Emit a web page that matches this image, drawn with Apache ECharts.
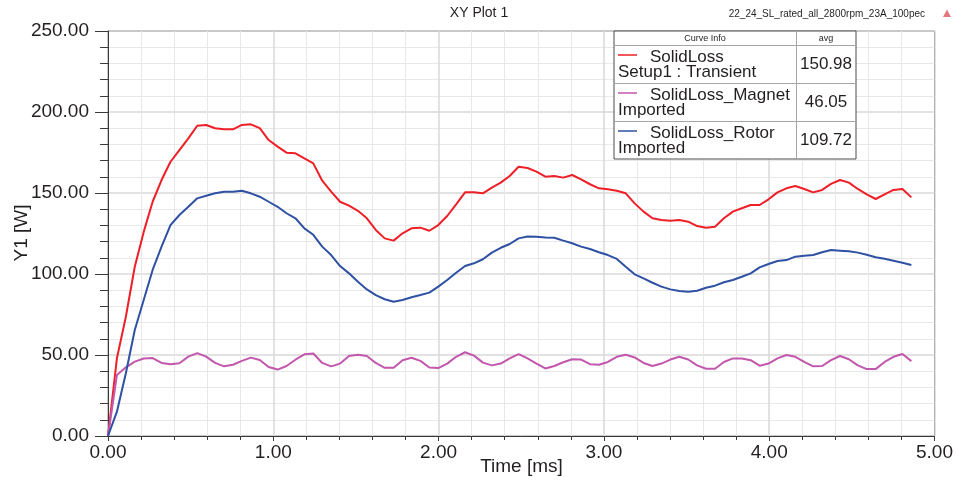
<!DOCTYPE html>
<html>
<head>
<meta charset="utf-8">
<script src="https://cdn.jsdelivr.net/npm/echarts@6/dist/echarts.min.js"></script>
<style>
  html, body { margin: 0; padding: 0; background: #fff; }
  #chart { width: 956px; height: 483px; }
</style>
</head>
<body>
<div id="chart"></div>
<script>
// Sample times [ms]
const timeMs = [
  0, 0.054, 0.108, 0.162, 0.216, 0.27, 0.324, 0.378, 0.432, 0.486,
  0.54, 0.594, 0.648, 0.702, 0.756, 0.81, 0.864, 0.918, 0.972, 1.026,
  1.08, 1.134, 1.188, 1.242, 1.296, 1.35, 1.404, 1.458, 1.512, 1.566,
  1.62, 1.674, 1.728, 1.782, 1.836, 1.89, 1.944, 1.998, 2.052, 2.106,
  2.16, 2.214, 2.268, 2.322, 2.376, 2.43, 2.484, 2.538, 2.592, 2.646,
  2.7, 2.754, 2.808, 2.862, 2.916, 2.97, 3.024, 3.078, 3.132, 3.186,
  3.24, 3.294, 3.348, 3.402, 3.456, 3.51, 3.564, 3.618, 3.672, 3.726,
  3.78, 3.834, 3.888, 3.942, 3.996, 4.05, 4.104, 4.158, 4.212, 4.266,
  4.32, 4.374, 4.428, 4.482, 4.536, 4.59, 4.644, 4.698, 4.752, 4.806,
  4.86
];

// SolidLoss [W]
const solidLoss = [
  0, 48, 73.6, 104.5, 126, 144.6, 158, 169.3, 176.5, 183.7,
  191.5, 192, 190, 189.3, 189.3, 192, 192.4, 190, 182.7, 178.6,
  174.9, 174.5, 171.4, 168.3, 157.6, 150.8, 144.6, 142.2, 139, 134.4,
  127.2, 122, 120.6, 125.1, 128.2, 128.6, 126.7, 130.2, 135.8, 143,
  150.4, 150.4, 149.8, 153.3, 156.4, 160.5, 166.2, 165.4, 163.2, 160.1,
  160.5, 159.5, 161.1, 158.4, 155.4, 152.9, 152.3, 151.4, 149.8, 143.6,
  138.5, 134.4, 133.3, 132.9, 133.3, 132.3, 129.6, 128.6, 129.2, 134.4,
  138.5, 140.6, 142.6, 142.6, 146.1, 150.4, 152.9, 154.3, 152.5, 150.4,
  151.9, 155.6, 158, 156.4, 152.5, 149.2, 146.3, 149.2, 151.9, 152.5,
  147.3
];

// SolidLoss_Magnet [W]
const solidLossMagnet = [
  0, 37.7, 42.4, 45.9, 47.8, 48.1, 45.1, 44.3, 44.9, 49,
  51.2, 49, 45.1, 43, 44, 46.4, 48.4, 46.9, 42.6, 41,
  43.2, 47.1, 50.4, 50.9, 45.1, 43, 44.7, 49.4, 50.2, 49.4,
  45.1, 42.1, 42.1, 46.8, 48.3, 46.4, 42.3, 41.9, 44.7, 48.9,
  51.7, 49.6, 45.3, 43.6, 44.7, 47.9, 50.6, 47.9, 44.7, 41.7,
  43.2, 45.5, 47.4, 47.2, 44.3, 44, 45.7, 48.9, 50.2, 48.5,
  45.1, 43.2, 44.7, 47.2, 48.9, 47.2, 43.6, 41.5, 41.5, 45.7,
  47.9, 47.9, 46.8, 43.4, 44.7, 47.9, 50, 48.9, 45.7, 43,
  43.2, 46.8, 49.4, 47.4, 43.6, 41.3, 41.3, 45.7, 48.9, 50.6,
  46.2
];

// SolidLoss_Rotor [W]
const solidLossRotor = [
  0, 15, 38.7, 65.4, 84, 102.5, 116.9, 130.2, 136.4, 141.5,
  146.7, 148.3, 149.8, 150.8, 150.8, 151.4, 149.8, 147.7, 144.6, 141.5,
  137.5, 134.4, 128.2, 124.2, 116.9, 111.7, 104.9, 100.4, 95.2, 90.5,
  87, 84.4, 82.9, 84, 85.6, 87, 88.5, 92.2, 96.3, 100.8,
  104.9, 106.6, 109.1, 113.2, 116.2, 118.5, 122, 123.2, 123, 122.6,
  122.4, 120.6, 119, 116.9, 115.4, 113.4, 111.7, 109.3, 104.5, 99.8,
  97.3, 94.6, 92.2, 90.5, 89.5, 89.1, 89.7, 91.5, 92.8, 94.9,
  96.3, 98.3, 100.4, 104.1, 106.2, 108, 108.6, 110.7, 111.3, 111.7,
  113.4, 114.8, 114.4, 114, 113.2, 111.9, 110.3, 109.4, 108.2, 107,
  105.6
];

// Curve info table contents
const curveNames = ['SolidLoss', 'SolidLoss_Magnet', 'SolidLoss_Rotor'];
const curveSources = ['Setup1 : Transient', 'Imported', 'Imported'];
const curveAvg = ['150.98', '46.05', '109.72'];
const curveValues = [solidLoss, solidLossMagnet, solidLossRotor];

const plotTitle = 'XY Plot 1';
const designName = '22_24_SL_rated_all_2800rpm_23A_100pec';
const xName = 'Time [ms]';
const yName = 'Y1 [W]';

// ---- styling / layout ----
const curveColors = ['#ee1f26', '#c257ad', '#2e51a3'];
const FONT = '"Liberation Sans", Arial, sans-serif';
const TXT = '#231f20';
const plot = { left: 108, top: 31, right: 935, bottom: 436 };

const chart = echarts.init(document.getElementById('chart'), null, { renderer: 'canvas' });

const series = curveNames.map((name, k) => ({
  name,
  type: 'line',
  data: timeMs.map((t, i) => [t, curveValues[k][i]]),
  showSymbol: false,
  symbol: 'none',
  lineStyle: { color: curveColors[k], width: 2 },
  itemStyle: { color: curveColors[k] },
  z: 3 + k
}));

// Curve info table
const tbl = { x0: 614, x1: 796, x2: 856, rows: [31, 45, 83, 121, 159] };
const tableEls = [];
tableEls.push({
  type: 'rect', z: 100,
  shape: { x: tbl.x0, y: tbl.rows[0], width: tbl.x2 - tbl.x0, height: tbl.rows[4] - tbl.rows[0] },
  style: { fill: '#ffffff', stroke: '#4a4a4a', lineWidth: 1 }
});
[1, 2, 3].forEach(r => tableEls.push({
  type: 'line', z: 101,
  shape: { x1: tbl.x0, y1: tbl.rows[r] + 0.5, x2: tbl.x2, y2: tbl.rows[r] + 0.5 },
  style: { stroke: '#a6a6a6', lineWidth: 1 }
}));
tableEls.push({
  type: 'line', z: 101,
  shape: { x1: tbl.x1 + 0.5, y1: tbl.rows[0], x2: tbl.x1 + 0.5, y2: tbl.rows[4] },
  style: { stroke: '#a6a6a6', lineWidth: 1 }
});
tableEls.push({
  type: 'text', z: 102, x: (tbl.x0 + tbl.x1) / 2, y: 38.5,
  style: { text: 'Curve Info', font: '9px ' + FONT, fill: TXT, align: 'center', verticalAlign: 'middle' }
});
tableEls.push({
  type: 'text', z: 102, x: (tbl.x1 + tbl.x2) / 2, y: 38.5,
  style: { text: 'avg', font: '9px ' + FONT, fill: TXT, align: 'center', verticalAlign: 'middle' }
});
curveNames.forEach((name, k) => {
  const top = tbl.rows[k + 1];
  tableEls.push({
    type: 'line', z: 102,
    shape: { x1: 618, y1: top + 10, x2: 637, y2: top + 10 },
    style: { stroke: curveColors[k], lineWidth: 1.5 }
  });
  tableEls.push({
    type: 'text', z: 102, x: 650, y: top + 12.5,
    style: { text: name, font: '17px ' + FONT, fill: TXT, align: 'left', verticalAlign: 'middle' }
  });
  tableEls.push({
    type: 'text', z: 102, x: 618, y: top + 27.8,
    style: { text: curveSources[k], font: '17px ' + FONT, fill: TXT, align: 'left', verticalAlign: 'middle' }
  });
  tableEls.push({
    type: 'text', z: 102, x: (tbl.x1 + tbl.x2) / 2, y: top + 19.5,
    style: { text: curveAvg[k], font: '17px ' + FONT, fill: TXT, align: 'center', verticalAlign: 'middle' }
  });
});

const option = {
  animation: false,
  backgroundColor: '#ffffff',
  grid: {
    left: plot.left, top: plot.top,
    width: plot.right - plot.left, height: plot.bottom - plot.top,
    show: true, borderColor: '#3a3a3a', borderWidth: 1, backgroundColor: 'transparent'
  },
  xAxis: {
    type: 'value', min: 0, max: 5, interval: 1,
    axisLine: { show: true, lineStyle: { color: '#3a3a3a', width: 1 } },
    axisTick: { show: true, length: 5, lineStyle: { color: '#3a3a3a' } },
    minorTick: { show: true, splitNumber: 5, length: 4, lineStyle: { color: '#3a3a3a' } },
    axisLabel: {
      margin: 7, fontSize: 19, fontFamily: FONT, color: TXT,
      formatter: v => v.toFixed(2)
    },
    splitLine: { show: true, lineStyle: { color: '#d9d9d9', width: 1.5 } },
    minorSplitLine: { show: true, lineStyle: { color: '#e8e8e8', width: 1 } }
  },
  yAxis: {
    type: 'value', min: 0, max: 250, interval: 50,
    axisLine: { show: true, lineStyle: { color: '#3a3a3a', width: 1 } },
    axisTick: { show: true, length: 13, lineStyle: { color: '#3a3a3a' } },
    minorTick: { show: true, splitNumber: 5, length: 8, lineStyle: { color: '#3a3a3a' } },
    axisLabel: {
      margin: 19, fontSize: 19, fontFamily: FONT, color: TXT,
      formatter: v => v.toFixed(2)
    },
    splitLine: { show: true, lineStyle: { color: '#d9d9d9', width: 1.5 } },
    minorSplitLine: { show: true, lineStyle: { color: '#e8e8e8', width: 1 } }
  },
  series,
  graphic: [
    {
      type: 'text', x: 479, y: 13,
      style: { text: plotTitle, font: '14px ' + FONT, fill: TXT, align: 'center', verticalAlign: 'middle' }
    },
    {
      type: 'text', x: 925, y: 14,
      style: { text: designName, font: '10px ' + FONT, fill: TXT, align: 'right', verticalAlign: 'middle' }
    },
    {
      type: 'polygon',
      shape: { points: [[943, 17], [947, 9.5], [951, 17]] },
      style: { fill: '#e4797d' }
    },
    {
      type: 'text', x: (plot.left + plot.right) / 2, y: 467,
      style: { text: xName, font: '19px ' + FONT, fill: TXT, align: 'center', verticalAlign: 'middle' }
    },
    {
      type: 'text', x: 22, y: 233, rotation: Math.PI / 2,
      style: { text: yName, font: '19px ' + FONT, fill: TXT, align: 'center', verticalAlign: 'middle' }
    },
    ...tableEls
  ]
};

chart.setOption(option);
</script>
</body>
</html>
